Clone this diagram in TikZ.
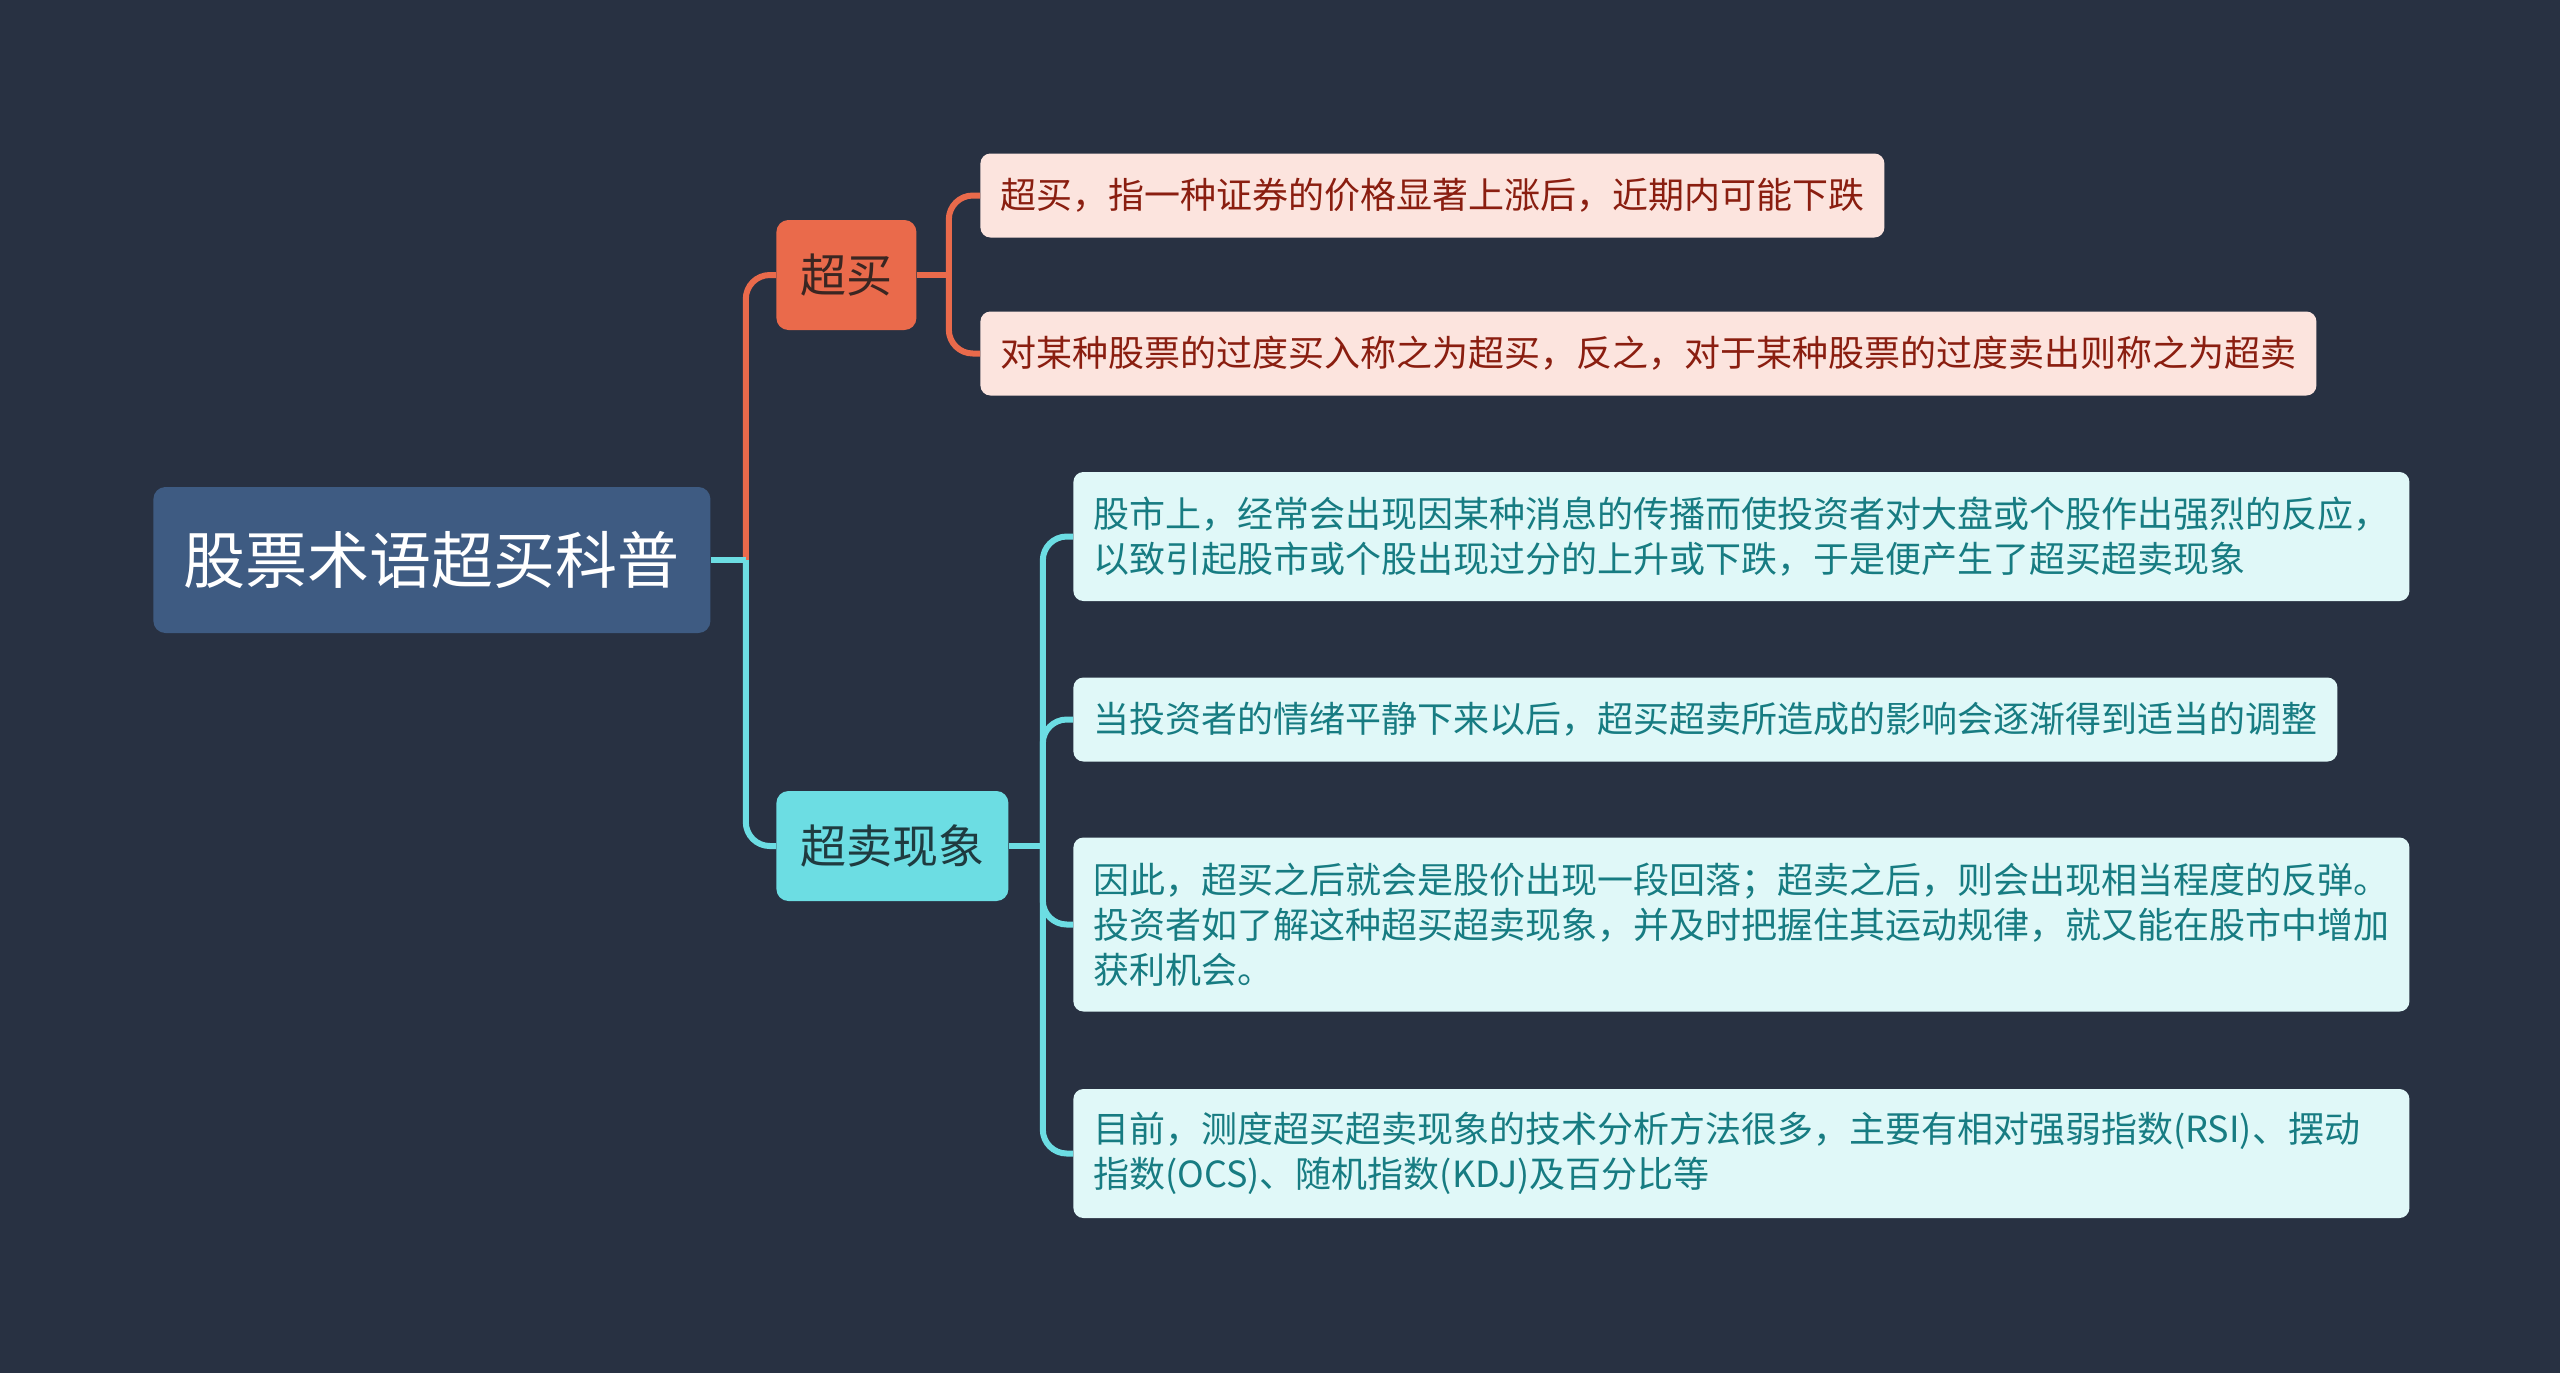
\documentclass[tikz,border=0pt]{standalone}
\usepackage{fontspec}
\usepackage{tikz}
\newfontfamily\cjk{Noto Sans CJK SC}
\definecolor{bg}{HTML}{283142}
\definecolor{rootc}{HTML}{3E5B82}
\definecolor{buyc}{HTML}{EA6A4B}
\definecolor{buyl}{HTML}{FCE4DE}
\definecolor{buyt}{HTML}{8A1E10}
\definecolor{buyd}{HTML}{3A2622}
\definecolor{sellc}{HTML}{6CDDE3}
\definecolor{selll}{HTML}{E0F8F8}
\definecolor{sellt}{HTML}{177C82}
\definecolor{selld}{HTML}{1F3B40}

\begin{document}
\begin{tikzpicture}[x=0.5pt,y=-0.5pt,
  topic/.style={fill=rootc,text=white,rounded corners=6pt,minimum width=278.5pt,minimum height=73pt,
    font=\cjk\fontsize{31pt}{37pt}\selectfont},
  branch/.style={rounded corners=6pt,minimum height=55pt,inner xsep=12pt,
    font=\cjk\fontsize{23pt}{28pt}\selectfont},
  leaf/.style={rounded corners=5pt,anchor=west,inner xsep=10pt,align=left,minimum height=42pt,
    font=\cjk\fontsize{18pt}{22.5pt}\selectfont},
  wide/.style={text width=648pt},
  buyline/.style={draw=buyc,line width=3pt,rounded corners=12pt},
  sellline/.style={draw=sellc,line width=3pt,rounded corners=12pt}]
\fill[bg] (0,0) rectangle (2560,1373);
\useasboundingbox (0,0) rectangle (2560,1373);

\node[topic,anchor=west] (root) at (153,560) {股票术语超买科普};
\node[branch,anchor=west,fill=buyc,text=buyd] (buy) at (776,275) {超买};
\node[branch,anchor=west,fill=sellc,text=selld] (sell) at (776,846) {超卖现象};

\node[leaf,fill=buyl,text=buyt] (b1) at (980,195.5) {超买，指一种证券的价格显著上涨后，近期内可能下跌};
\node[leaf,fill=buyl,text=buyt] (b2) at (980,353.5) {对某种股票的过度买入称之为超买，反之，对于某种股票的过度卖出则称之为超卖};

\node[leaf,wide,fill=selll,text=sellt,minimum height=64.5pt] (s1) at (1073,536.5)
  {股市上，经常会出现因某种消息的传播而使投资者对大盘或个股作出强烈的反应，\\以致引起股市或个股出现过分的上升或下跌，于是便产生了超买超卖现象};
\node[leaf,fill=selll,text=sellt] (s2) at (1073,719.5) {当投资者的情绪平静下来以后，超买超卖所造成的影响会逐渐得到适当的调整};
\node[leaf,wide,fill=selll,text=sellt,minimum height=87pt] (s3) at (1073,924.5)
  {因此，超买之后就会是股价出现一段回落；超卖之后，则会出现相当程度的反弹。\\投资者如了解这种超买超卖现象，并及时把握住其运动规律，就又能在股市中增加\\获利机会。};
\node[leaf,wide,fill=selll,text=sellt,minimum height=64.5pt] (s4) at (1073,1153.5)
  {目前，测度超买超卖现象的技术分析方法很多，主要有相对强弱指数(RSI)、摆动\\指数(OCS)、随机指数(KDJ)及百分比等};

\draw[buyline] ([xshift=17.5pt]root.east) |- (buy.west);
\draw[sellline] (root.east) -- ++(35,0) coordinate (j0);
\draw[sellline] (j0) |- (sell.west);

\draw[buyline] (buy.east) -- ++(32,0) coordinate (j1);
\draw[buyline] (j1) |- (b1.west);
\draw[buyline] (j1) |- (b2.west);

\draw[sellline] (sell.east) -- ++(34,0) coordinate (j2);
\foreach \s in {s1,s2,s3,s4}
  \draw[sellline] (j2) |- (\s.west);
\end{tikzpicture}
\end{document}
